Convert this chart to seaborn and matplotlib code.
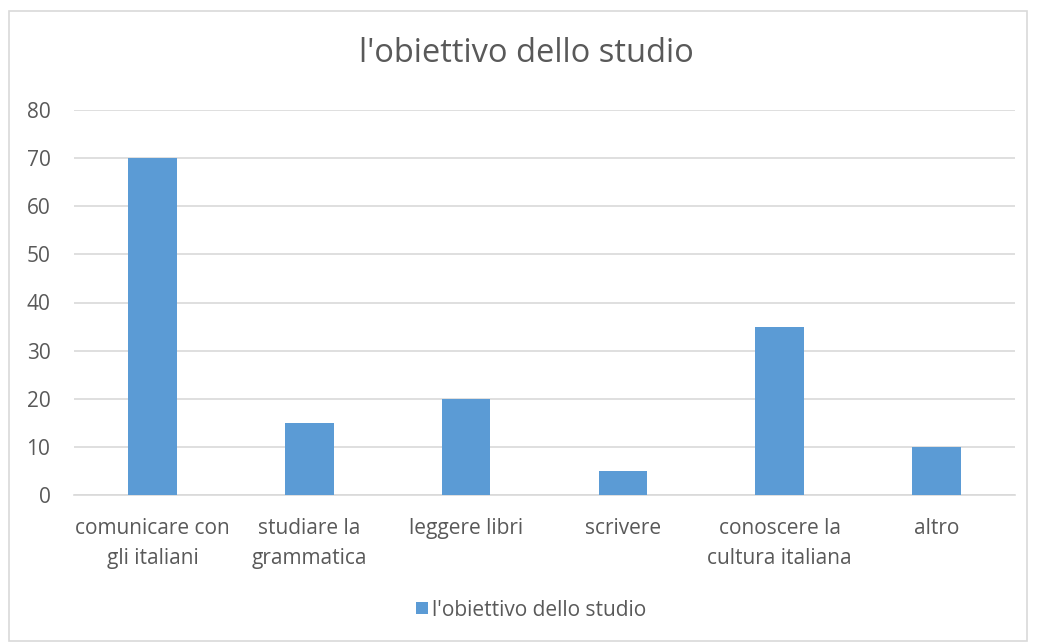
import matplotlib
matplotlib.use("Agg")
import matplotlib.pyplot as plt
from matplotlib.patches import Rectangle
import seaborn as sns
import pandas as pd

categories = ["comunicare con\ngli italiani", "studiare la\ngrammatica", "leggere libri",
              "scrivere", "conoscere la\ncultura italiana", "altro"]
values = [70, 15, 20, 5, 35, 10]
series_name = "l'obiettivo dello studio"
yticks = [0, 10, 20, 30, 40, 50, 60, 70, 80]

sns.set_theme(style="white")
plt.rcParams["font.family"] = ["Open Sans", "DejaVu Sans"]

text_color = "#595959"
bar_color = "#5B9BD5"
grid_color = "#D9D9D9"

df = pd.DataFrame({"categoria": categories, "valore": values, "serie": series_name})

fig = plt.figure(figsize=(10.37, 6.42), dpi=100)
ax = fig.add_axes([74 / 1037, 1 - 495 / 642, (1015 - 74) / 1037, (495 - 110) / 642])

# outer chart border
fig.patches.append(Rectangle((9 / 1037, 1 / 642), (1027 - 9) / 1037, 630 / 642,
                             transform=fig.transFigure, fill=False,
                             edgecolor="#D9D9D9", linewidth=1.2))

sns.barplot(data=df, x="categoria", y="valore", hue="serie", palette=[bar_color],
            width=0.31, ax=ax, saturation=1, legend=True, zorder=3, linewidth=0)

ax.set_xlim(-0.5, len(categories) - 0.5)
ax.set_ylim(0, 80)
ax.set_yticks(yticks)
ax.set_yticklabels([str(t) for t in yticks])
ax.yaxis.grid(True, color=grid_color, linewidth=1.2, zorder=0)
ax.set_axisbelow(True)
for side in ["top", "right", "left"]:
    ax.spines[side].set_visible(False)
ax.spines["bottom"].set_color(grid_color)
ax.spines["bottom"].set_linewidth(1.2)
ax.tick_params(axis="both", length=0, labelsize=15, colors=text_color)
ax.tick_params(axis="y", pad=17)
ax.tick_params(axis="x", pad=16.5)
for lbl in ax.get_xticklabels():
    lbl.set_linespacing(1.55)
ax.set_xlabel("")
ax.set_ylabel("")

fig.text(526 / 1037, 1 - 53 / 642, series_name, ha="center", va="center",
         fontsize=23.5, color=text_color)

leg = ax.legend(loc="center", bbox_to_anchor=(531 / 1037, 1 - 610 / 642),
                bbox_transform=fig.transFigure, frameon=False, fontsize=15,
                handlelength=0.55, handleheight=0.55, handletextpad=0.2)
for t in leg.get_texts():
    t.set_color(text_color)

fig.savefig("out.png", dpi=100, facecolor="white")
